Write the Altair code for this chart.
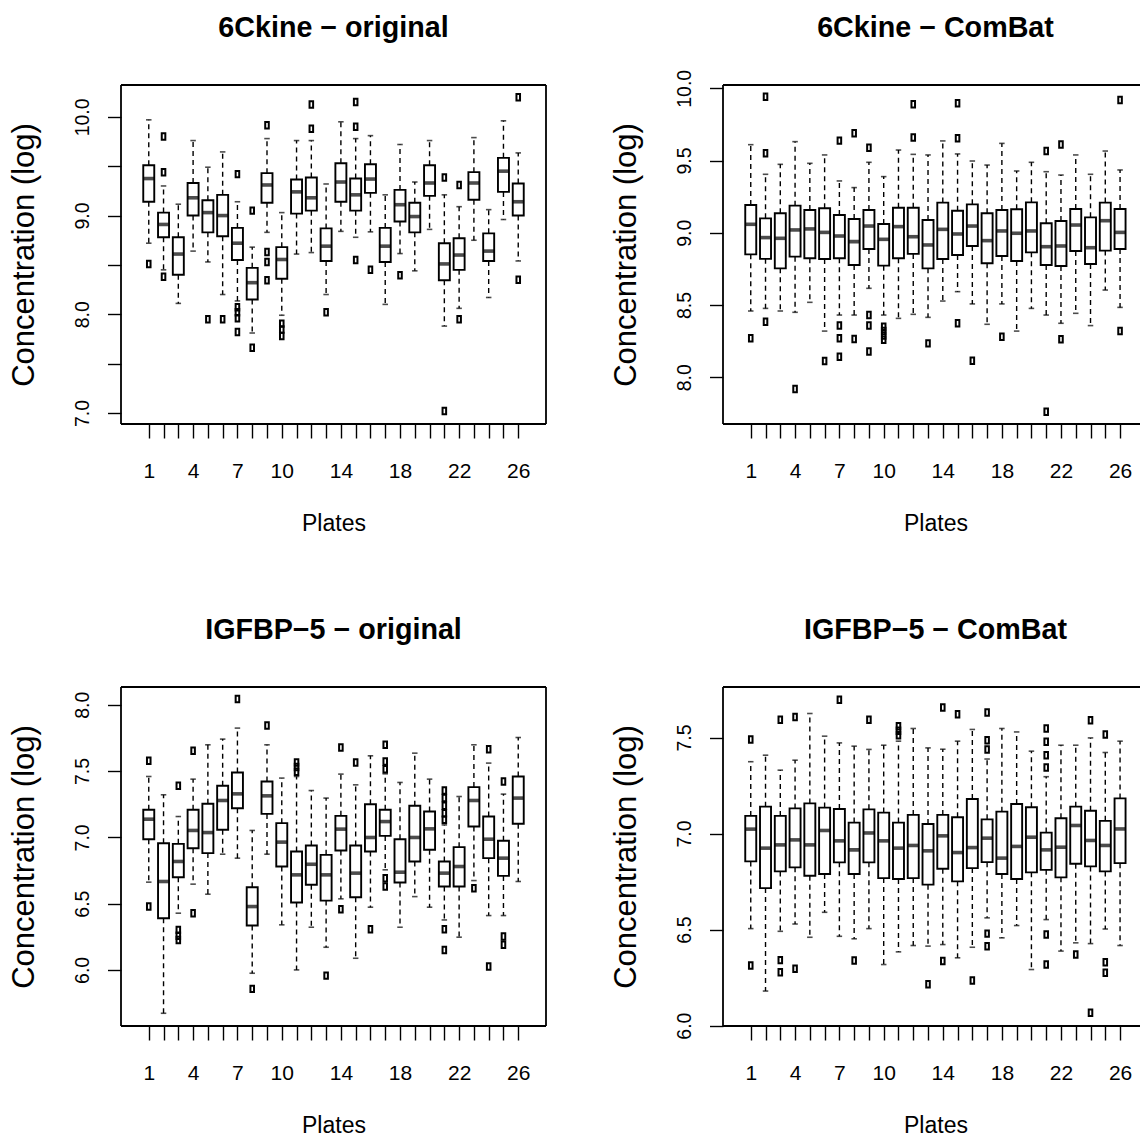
import altair as alt
import pandas as pd

FONT = "Liberation Sans"
plates = list(range(1, 27))
x_labels_shown = [1, 4, 7, 10, 14, 18, 22, 26]

# ---------------- 6Ckine - original ----------------
ck_o_lo = [8.72, 8.45, 8.11, 8.64, 8.53, 8.20, 8.135, 7.81, 8.83, 7.99, 8.61, 8.625, 8.20,
           8.84, 8.78, 8.835, 8.10, 8.615, 8.44, 8.86, 7.88, 8.06, 8.75, 8.17, 8.96, 8.54]
ck_o_q1 = [9.14, 8.78, 8.40, 9.00, 8.83, 8.79, 8.55, 8.15, 9.13, 8.36, 9.02, 9.05, 8.54,
           9.14, 9.05, 9.23, 8.53, 8.94, 8.83, 9.20, 8.345, 8.45, 9.16, 8.54, 9.24, 9.00]
ck_o_med = [9.375, 8.91, 8.61, 9.18, 9.03, 9.00, 8.72, 8.32, 9.31, 8.555, 9.24, 9.18, 8.69,
            9.34, 9.21, 9.37, 8.69, 9.11, 8.99, 9.33, 8.51, 8.60, 9.33, 8.64, 9.45, 9.14]
ck_o_q3 = [9.51, 9.03, 8.78, 9.33, 9.155, 9.21, 8.875, 8.47, 9.43, 8.68, 9.365, 9.385, 8.87,
           9.53, 9.375, 9.52, 8.875, 9.26, 9.13, 9.51, 8.72, 8.77, 9.44, 8.82, 9.585, 9.325]
ck_o_hi = [9.97, 9.30, 9.115, 9.76, 9.49, 9.645, 9.14, 8.68, 9.78, 9.03, 9.76, 9.76, 9.32,
           9.95, 9.78, 9.81, 9.21, 9.72, 9.34, 9.76, 9.21, 9.09, 9.79, 9.06, 9.96, 9.635]
ck_o_out_plate = [1, 2, 2, 2, 5, 6, 7, 7, 7, 7, 7, 8, 8, 9, 9, 9, 9, 10, 10, 10, 12, 12, 13,
                  15, 15, 15, 16, 18, 21, 21, 22, 22, 26, 26]
ck_o_out_val = [8.51, 9.80, 9.44, 8.38, 7.95, 7.95, 9.42, 8.07, 8.02, 7.96, 7.82, 9.05, 7.66,
                9.915, 8.63, 8.53, 8.345, 7.905, 7.845, 7.78, 10.125, 9.88, 8.02,
                10.15, 9.90, 8.55, 8.45, 8.395, 9.385, 7.02, 9.31, 7.95, 10.20, 8.35]

# ---------------- 6Ckine - ComBat ----------------
ck_c_lo = [8.459, 8.477, 8.459, 8.45, 8.519, 8.32, 8.431, 8.431, 8.616, 8.431, 8.408, 8.436, 8.415,
           8.528, 8.593, 8.508, 8.367, 8.508, 8.32, 8.477, 8.431, 8.374, 8.443, 8.358, 8.604, 8.484]
ck_c_q1 = [8.851, 8.82, 8.754, 8.835, 8.824, 8.819, 8.824, 8.777, 8.888, 8.773, 8.824, 8.854, 8.754,
           8.819, 8.847, 8.909, 8.789, 8.84, 8.805, 8.865, 8.777, 8.77, 8.874, 8.784, 8.877, 8.888]
ck_c_med = [9.059, 8.967, 8.962, 9.02, 9.027, 9.003, 8.978, 8.939, 9.047, 8.955, 9.043, 8.973, 8.916,
            9.024, 8.992, 9.047, 8.946, 9.013, 8.997, 9.013, 8.904, 8.909, 9.054, 8.897, 9.084, 9.003]
ck_c_q3 = [9.193, 9.10, 9.135, 9.188, 9.158, 9.17, 9.123, 9.096, 9.158, 9.061, 9.174, 9.174, 9.089,
           9.209, 9.153, 9.197, 9.135, 9.158, 9.163, 9.211, 9.066, 9.082, 9.165, 9.107, 9.209, 9.165]
ck_c_hi = [9.61, 9.405, 9.474, 9.631, 9.481, 9.539, 9.359, 9.313, 9.488, 9.389, 9.573, 9.543, 9.539,
           9.636, 9.546, 9.497, 9.469, 9.619, 9.428, 9.488, 9.423, 9.40, 9.539, 9.405, 9.566, 9.435]
ck_c_out_plate = [1, 2, 2, 2, 4, 6, 7, 7, 7, 7, 8, 8, 9, 9, 9, 9, 10, 10, 10, 10, 12, 12, 13,
                  15, 15, 15, 16, 18, 21, 21, 22, 22, 26, 26]
ck_c_out_val = [8.27, 9.942, 9.55, 8.385, 7.919, 8.113, 9.638, 8.358, 8.27, 8.143, 9.689, 8.265,
                9.589, 8.431, 8.358, 8.178, 8.35, 8.32, 8.29, 8.26, 9.889, 9.659, 8.235,
                9.896, 9.654, 8.374, 8.115, 8.281, 9.566, 7.762, 9.612, 8.263, 9.919, 8.321]

# ---------------- IGFBP-5 - original ----------------
ig_o_lo = [6.662, 5.673, 6.428, 6.647, 6.571, 6.873, 6.843, 5.975, 6.873, 6.34, 6.0, 6.322, 6.171,
           6.536, 6.088, 6.473, 6.755, 6.322, 6.553, 6.473, 6.377, 6.247, 6.674, 6.41, 6.41, 6.667]
ig_o_q1 = [6.986, 6.39, 6.699, 6.918, 6.881, 7.057, 7.22, 6.335, 7.177, 6.78, 6.508, 6.642, 6.523,
           6.901, 6.548, 6.893, 7.011, 6.659, 6.818, 6.906, 6.629, 6.629, 7.082, 6.843, 6.709, 7.102]
ig_o_med = [7.137, 6.667, 6.818, 7.052, 7.036, 7.278, 7.328, 6.478, 7.313, 6.964, 6.717, 6.797, 6.717,
            7.062, 6.73, 6.999, 7.119, 6.737, 6.999, 7.064, 6.73, 6.78, 7.278, 6.986, 6.843, 7.296]
ig_o_q3 = [7.208, 6.956, 6.951, 7.208, 7.253, 7.389, 7.489, 6.624, 7.421, 7.107, 6.893, 6.938, 6.868,
           7.162, 6.938, 7.25, 7.208, 6.986, 7.238, 7.195, 6.818, 6.926, 7.379, 7.157, 6.974, 7.459]
ig_o_hi = [7.459, 7.321, 7.157, 7.439, 7.698, 7.741, 7.824, 7.052, 7.698, 7.447, 7.459, 7.353, 7.296,
           7.477, 7.396, 7.615, 7.479, 7.414, 7.635, 7.439, 7.094, 7.308, 7.698, 7.56, 7.326, 7.753]
ig_o_out_plate = [1, 1, 3, 3, 3, 3, 4, 4, 7, 8, 9, 11, 11, 11, 13, 14, 14, 15, 16,
                  17, 17, 17, 17, 17, 21, 21, 21, 21, 21, 21, 21, 23, 24, 24, 25, 25, 25]
ig_o_out_val = [7.577, 6.478, 7.389, 6.302, 6.257, 6.226, 7.653, 6.428, 8.043, 5.857, 7.844,
                7.565, 7.53, 7.494, 5.957, 7.678, 6.458, 7.565, 6.307,
                7.698, 7.572, 7.514, 6.692, 6.629, 7.353, 7.296, 7.238, 7.182, 7.132, 6.307, 6.151,
                6.616, 7.665, 6.025, 7.421, 6.252, 6.189]

# ---------------- IGFBP-5 - ComBat ----------------
ig_c_lo = [6.505, 6.18, 6.491, 6.529, 6.46, 6.59, 6.465, 6.452, 6.505, 6.318, 6.384, 6.417, 6.414,
           6.422, 6.353, 6.408, 6.561, 6.457, 6.521, 6.292, 6.552, 6.388, 6.431, 6.427, 6.503, 6.417]
ig_c_q1 = [6.855, 6.716, 6.803, 6.824, 6.78, 6.789, 6.85, 6.789, 6.85, 6.768, 6.763, 6.768, 6.734,
           6.817, 6.751, 6.82, 6.851, 6.789, 6.763, 6.798, 6.811, 6.772, 6.843, 6.829, 6.803, 6.846]
ig_c_med = [7.023, 6.924, 6.941, 6.967, 6.941, 7.016, 6.962, 6.915, 7.003, 6.962, 6.924, 6.938, 6.91,
            6.988, 6.901, 6.927, 6.976, 6.872, 6.933, 6.981, 6.915, 6.929, 7.042, 6.964, 6.938, 7.024]
ig_c_q3 = [7.092, 7.14, 7.092, 7.131, 7.157, 7.135, 7.128, 7.057, 7.126, 7.109, 7.057, 7.097, 7.05,
           7.097, 7.085, 7.18, 7.074, 7.114, 7.154, 7.137, 7.005, 7.08, 7.14, 7.119, 7.066, 7.183]
ig_c_hi = [7.374, 7.408, 7.33, 7.382, 7.625, 7.507, 7.472, 7.455, 7.438, 7.46, 7.481, 7.547, 7.446,
           7.439, 7.481, 7.542, 7.388, 7.547, 7.529, 7.429, 7.296, 7.46, 7.46, 7.498, 7.422, 7.481]
ig_c_out_plate = [1, 1, 3, 3, 3, 4, 4, 7, 8, 9, 11, 11, 11, 13, 14, 14, 15, 16,
                  17, 17, 17, 17, 17, 21, 21, 21, 21, 21, 21, 23, 24, 24, 25, 25, 25]
ig_c_out_val = [7.49, 6.313, 7.593, 6.341, 6.278, 7.607, 6.296, 7.697, 6.339, 7.593,
                7.559, 7.535, 7.512, 6.215, 7.656, 6.336, 7.621, 6.235,
                7.63, 7.486, 7.438, 6.479, 6.413, 7.547, 7.478, 7.408, 7.344, 6.474, 6.318,
                6.37, 7.59, 6.067, 7.516, 6.33, 6.275]

PX_PER_UNIT = 425 / 28.08
OUTLIER_SHAPE = "M -0.55 -1 L 0.55 -1 L 0.55 1 L -0.55 1 Z"
H = 339


def panel(title, lo, q1, med, q3, hi, out_plate, out_val, ydom, yvals, ylabelled,
          width, full_width, right_border, anchor=False):
    df = pd.DataFrame({"plate": plates, "lo": lo, "q1": q1, "med": med, "q3": q3, "hi": hi})
    od = pd.DataFrame({"plate": out_plate, "value": out_val})
    xdom = [-0.54, -0.54 + width / PX_PER_UNIT]
    xsc = alt.Scale(domain=xdom, nice=False, zero=False)
    ysc = alt.Scale(domain=ydom, nice=False, zero=False)
    lab_list = ",".join(str(v) for v in x_labels_shown)
    xaxis = alt.Axis(values=plates, format="d",
                     labelExpr=f"indexof([{lab_list}], datum.value) >= 0 ? datum.label : ''",
                     domain=False, grid=False, tickSize=14, tickWidth=1.4, tickColor="black",
                     labelFont=FONT, labelFontSize=21, labelColor="black",
                     labelBaseline="alphabetic", labelPadding=39, labelOverlap=False,
                     labelFlush=False, title="Plates", titleFont=FONT, titleFontSize=23,
                     titleFontWeight="normal", titleColor="black", titleX=full_width / 2,
                     titleY=106.5, titleBaseline="alphabetic", titleAlign="center")
    ylab_list = ",".join(repr(v) for v in ylabelled)
    yaxis = alt.Axis(values=yvals, format=".1f",
                     labelExpr=f"indexof([{ylab_list}], datum.value) >= 0 ? datum.label : ''",
                     domain=False, grid=False, tickSize=13.5, tickWidth=1.4, tickColor="black",
                     labelFont=FONT, labelFontSize=19.5, labelColor="black", labelAngle=270,
                     labelAlign="center", labelBaseline="alphabetic", labelPadding=19,
                     labelOverlap=False, labelFlush=False,
                     title="Concentration (log)", titleFont=FONT, titleFontSize=31,
                     titleFontWeight="normal", titleColor="black", titleAngle=270,
                     titleX=-88, titleY=H / 2, titleBaseline="alphabetic", titleAlign="center")

    base = alt.Chart(df)
    X = alt.X("plate:Q", scale=xsc, axis=xaxis)

    def Y(field):
        return alt.Y(f"{field}:Q", scale=ysc, axis=yaxis)

    dash = [5, 4]
    wl = base.mark_rule(color="black", strokeWidth=1.4, strokeDash=dash).encode(
        x=X, y=Y("q1"), y2="lo:Q")
    wh = base.mark_rule(color="black", strokeWidth=1.4, strokeDash=dash).encode(
        x=X, y=Y("q3"), y2="hi:Q")
    cap_lo = base.mark_tick(color="black", orient="horizontal", size=5.5, thickness=1.6).encode(
        x=X, y=Y("lo"))
    cap_hi = base.mark_tick(color="black", orient="horizontal", size=5.5, thickness=1.6).encode(
        x=X, y=Y("hi"))
    box = base.mark_bar(size=11, fill="white", stroke="black", strokeWidth=1.9).encode(
        x=X, y=Y("q1"), y2="q3:Q")
    medl = base.mark_tick(color="black", orient="horizontal", size=11, thickness=3.6).encode(
        x=X, y=Y("med"))
    outl = alt.Chart(od).mark_point(shape=OUTLIER_SHAPE, filled=False, size=42, color="black",
                                    strokeWidth=2, opacity=1).encode(
        x=X, y=alt.Y("value:Q", scale=ysc, axis=yaxis))

    one = alt.Chart(pd.DataFrame({"k": [0]}))
    bw = 1.8
    borders = [
        one.mark_rule(color="black", strokeWidth=bw).encode(
            x=alt.value(0), x2=alt.value(width), y=alt.value(0)),
        one.mark_rule(color="black", strokeWidth=bw).encode(
            x=alt.value(0), x2=alt.value(width), y=alt.value(H)),
        one.mark_rule(color="black", strokeWidth=bw).encode(
            x=alt.value(0), y=alt.value(0), y2=alt.value(H)),
    ]
    if right_border:
        borders.append(one.mark_rule(color="black", strokeWidth=bw).encode(
            x=alt.value(width), y=alt.value(0), y2=alt.value(H)))
    ttl = one.mark_text(text=title, font=FONT, fontSize=28.7, fontWeight="bold",
                        align="center", baseline="alphabetic", color="black").encode(
        x=alt.value(full_width / 2), y=alt.value(-48.3))
    layers = [wl, wh, cap_lo, cap_hi, box, medl, outl] + borders + [ttl]
    if anchor:
        layers.append(one.mark_rule(opacity=0, strokeOpacity=0).encode(
            x=alt.value(-121), x2=alt.value(-121), y=alt.value(-85), y2=alt.value(-85)))
    return alt.layer(*layers).properties(width=width, height=H)


p1 = panel("6Ckine \u2212 original", ck_o_lo, ck_o_q1, ck_o_med, ck_o_q3, ck_o_hi,
           ck_o_out_plate, ck_o_out_val, [6.888, 10.323],
           [7.0, 7.5, 8.0, 8.5, 9.0, 9.5, 10.0], [7.0, 8.0, 9.0, 10.0],
           425, 425, True, anchor=True)
p2 = panel("6Ckine \u2212 ComBat", ck_c_lo, ck_c_q1, ck_c_med, ck_c_q3, ck_c_hi,
           ck_c_out_plate, ck_c_out_val, [7.677, 10.023],
           [8.0, 8.5, 9.0, 9.5, 10.0], [8.0, 8.5, 9.0, 9.5, 10.0],
           417, 425, False)
p3 = panel("IGFBP\u22125 \u2212 original", ig_o_lo, ig_o_q1, ig_o_med, ig_o_q3, ig_o_hi,
           ig_o_out_plate, ig_o_out_val, [5.577, 8.134],
           [6.0, 6.5, 7.0, 7.5, 8.0], [6.0, 6.5, 7.0, 7.5, 8.0],
           425, 425, True)
p4 = panel("IGFBP\u22125 \u2212 ComBat", ig_c_lo, ig_c_q1, ig_c_med, ig_c_q3, ig_c_hi,
           ig_c_out_plate, ig_c_out_val, [5.998, 7.763],
           [6.0, 6.5, 7.0, 7.5], [6.0, 6.5, 7.0, 7.5],
           417, 425, False)

chart = alt.concat(p1, p2, p3, p4, columns=2, spacing={"row": 263, "column": 177},
                   bounds="flush").properties(
    padding=0, background="white"
).configure_view(stroke=None)

chart.save("out.html", embed_options={"renderer": "svg", "actions": False})
